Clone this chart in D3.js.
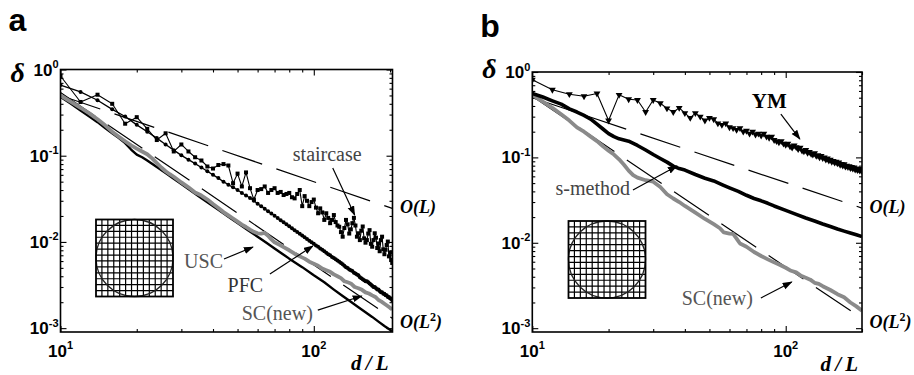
<!DOCTYPE html>
<html>
<head>
<meta charset="utf-8">
<script src="https://cdn.jsdelivr.net/npm/d3@7"></script>
<style>
  body { margin: 0; background: #fff; }
  svg { display: block; }
</style>
</head>
<body>
<div id="chart"></div>
<script>

// ---------- data ----------

// d/L at every second step, used by the marker series
const evenD = [10, 12, 14, 16, 18, 20, 22, 24, 26, 28, 30, 32, 34, 36, 38, 40, 42, 44, 46, 48,
    50, 52, 54, 56, 58, 60, 62, 64, 66, 68, 70, 72, 74, 76, 78, 80, 82, 84, 86, 88,
    90, 92, 94, 96, 98, 100, 102, 104, 106, 108, 110, 112, 114, 116, 118, 120, 122, 124, 126, 128,
    130, 132, 134, 136, 138, 140, 142, 144, 146, 148, 150, 152, 154, 156, 158, 160, 162, 164, 166, 168,
    170, 172, 174, 176, 178, 180, 182, 184, 186, 188, 190, 192, 194, 196, 198, 200, 202, 204];

// panel a
const staircaseA = [0.84, 0.42, 0.51, 0.40, 0.235, 0.28, 0.205, 0.152, 0.182, 0.112,
    0.135, 0.112, 0.096, 0.088, 0.075, 0.071, 0.078, 0.080, 0.077, 0.048,
    0.062, 0.044, 0.064, 0.042, 0.031, 0.040, 0.041, 0.044, 0.037, 0.040,
    0.042, 0.037, 0.038, 0.035, 0.036, 0.037, 0.033, 0.032, 0.036, 0.040,
    0.026, 0.034, 0.030, 0.026, 0.029, 0.031, 0.025, 0.0215, 0.0245, 0.022,
    0.018, 0.0215, 0.019, 0.0165, 0.018, 0.0205, 0.017, 0.0155, 0.015, 0.013,
    0.0115, 0.0145, 0.018, 0.016, 0.0125, 0.014, 0.0165, 0.019, 0.0155, 0.0115,
    0.0126, 0.0105, 0.0135, 0.0151, 0.011, 0.0098, 0.0105, 0.0125, 0.0137, 0.0095,
    0.0088, 0.0105, 0.0126, 0.0112, 0.0085, 0.0096, 0.0078, 0.0105, 0.0115, 0.0082,
    0.0072, 0.0081, 0.0092, 0.0101, 0.0068, 0.0075, 0.0062, 0.0057];

const pfcA = [0.66, 0.55, 0.44, 0.345, 0.285, 0.228, 0.19, 0.16, 0.135, 0.116,
    0.101, 0.090, 0.081, 0.073, 0.066, 0.060, 0.055, 0.050, 0.046, 0.043,
    0.040, 0.037, 0.0346, 0.0323, 0.0300, 0.0278, 0.0259, 0.0243, 0.0227, 0.0214,
    0.0201, 0.0189, 0.0179, 0.0169, 0.0160, 0.0152, 0.0144, 0.0137, 0.0130, 0.0124,
    0.0119, 0.0113, 0.0108, 0.0103, 0.0099, 0.0095, 0.0091, 0.0088, 0.0084, 0.0081,
    0.0078, 0.0075, 0.0072, 0.0070, 0.0067, 0.0065, 0.0063, 0.0061, 0.0059, 0.0057,
    0.0055, 0.0053, 0.0051, 0.0050, 0.0048, 0.0047, 0.0046, 0.0044, 0.0043, 0.0042,
    0.0041, 0.0039, 0.0038, 0.0037, 0.0036, 0.0035, 0.0035, 0.0034, 0.0033, 0.0032,
    0.0031, 0.0030, 0.0030, 0.0029, 0.0028, 0.0028, 0.0027, 0.0026, 0.0026, 0.0025,
    0.0025, 0.0024, 0.0024, 0.0023, 0.0023, 0.0022, 0.0022, 0.0021];

const scNewA = [[10, 0.50], [11, 0.42], [12, 0.36], [13, 0.31], [14, 0.265], [15, 0.225], [16, 0.19],
    [17, 0.166], [18, 0.147], [19, 0.132], [20, 0.121], [21, 0.112], [22, 0.104], [23, 0.093],
    [24, 0.082], [25, 0.073], [26, 0.066], [27, 0.061], [28, 0.057], [30, 0.049], [32, 0.043],
    [34, 0.0375], [35, 0.036], [36, 0.0345], [38, 0.031], [40, 0.0275], [42, 0.0248], [44, 0.0222],
    [46, 0.0203], [48, 0.0187], [50, 0.0172], [52, 0.0159], [54, 0.0149], [56, 0.0139], [58, 0.0131],
    [60, 0.0126], [62, 0.0125], [64, 0.0127], [66, 0.0118], [68, 0.0107], [70, 0.0099], [73, 0.0093],
    [76, 0.0087], [80, 0.0080], [84, 0.0073], [88, 0.0068], [92, 0.0064], [96, 0.0059], [100, 0.0056],
    [104, 0.0053], [108, 0.0049], [112, 0.0047], [116, 0.0045], [120, 0.0042], [124, 0.0040],
    [128, 0.0038], [132, 0.0035], [136, 0.0034], [140, 0.0033], [145, 0.0030], [150, 0.0029],
    [155, 0.00278], [160, 0.0026], [165, 0.00252], [170, 0.0024], [175, 0.0023], [180, 0.00212],
    [185, 0.00203], [190, 0.00192], [195, 0.00182], [200, 0.00172], [204, 0.00165]];

const uscA = [[10, 0.48], [11, 0.40], [12, 0.335], [13, 0.285], [14, 0.245], [15, 0.21], [16, 0.182],
    [17, 0.16], [18, 0.14], [19, 0.118], [20, 0.103], [21, 0.096], [22, 0.088], [24, 0.074],
    [26, 0.063], [28, 0.054], [30, 0.047], [32, 0.041], [35, 0.034], [38, 0.0288], [42, 0.0236],
    [46, 0.0196], [50, 0.0166], [55, 0.0137], [60, 0.0115], [65, 0.0098], [70, 0.0084], [75, 0.0073],
    [80, 0.0064], [90, 0.0051], [100, 0.0041], [110, 0.0034], [120, 0.0028], [130, 0.00236],
    [140, 0.00202], [150, 0.00175], [160, 0.00153], [170, 0.00135], [180, 0.00119], [190, 0.00106],
    [204, 0.00092]];

// guide lines O(L) and O(L^2), end points
const orderLA = [[10, 0.5], [204, 0.0245]];
const orderL2A = [[10, 0.54], [204, 0.0013]];

// panel b
const ymB = [0.81, 0.62, 0.55, 0.52, 0.56, 0.27, 0.54, 0.48, 0.47, 0.34,
    0.47, 0.43, 0.375, 0.34, 0.38, 0.33, 0.29, 0.33, 0.30, 0.27,
    0.29, 0.28, 0.25, 0.24, 0.25, 0.225, 0.22, 0.21, 0.22, 0.20,
    0.205, 0.19, 0.20, 0.185, 0.19, 0.18, 0.19, 0.175, 0.17, 0.175,
    0.16, 0.155, 0.15, 0.155, 0.145, 0.14, 0.145, 0.135, 0.13, 0.138,
    0.132, 0.125, 0.13, 0.12, 0.118, 0.122, 0.113, 0.116, 0.11, 0.108,
    0.112, 0.104, 0.106, 0.10, 0.104, 0.098, 0.10, 0.094, 0.097, 0.092,
    0.094, 0.089, 0.091, 0.087, 0.089, 0.085, 0.087, 0.082, 0.084, 0.080,
    0.083, 0.078, 0.080, 0.077, 0.079, 0.075, 0.077, 0.074, 0.076, 0.072,
    0.074, 0.071, 0.073, 0.070, 0.072, 0.069];

const sMethodB = [[10, 0.56], [11, 0.51], [12, 0.46], [13, 0.42], [14, 0.37], [15, 0.34], [16, 0.31],
    [17, 0.28], [18, 0.245], [19, 0.215], [20, 0.19], [21, 0.175], [22, 0.165], [24, 0.155],
    [26, 0.138], [28, 0.122], [30, 0.108], [32, 0.097], [34, 0.088], [36, 0.079], [38, 0.074],
    [40, 0.071], [44, 0.063], [48, 0.057], [52, 0.053], [56, 0.048], [60, 0.044], [65, 0.040],
    [70, 0.036], [75, 0.033], [80, 0.031], [85, 0.029], [90, 0.027], [100, 0.024], [110, 0.0215],
    [120, 0.0195], [130, 0.018], [140, 0.0166], [150, 0.0155], [160, 0.0145], [170, 0.0137],
    [180, 0.013], [190, 0.0124], [200, 0.0118]];

const scNewB = [[10, 0.54], [11, 0.45], [12, 0.38], [13, 0.32], [14, 0.27], [15, 0.225], [16, 0.20],
    [17, 0.175], [18, 0.155], [19, 0.135], [20, 0.12], [21, 0.108], [22, 0.095], [23, 0.082],
    [24, 0.07], [25, 0.062], [26, 0.058], [28, 0.054], [30, 0.052], [32, 0.045], [34, 0.037],
    [36, 0.033], [38, 0.030], [40, 0.027], [44, 0.0225], [48, 0.019], [52, 0.0165], [55, 0.0148],
    [57, 0.0132], [60, 0.0128], [62, 0.0127], [64, 0.0112], [66, 0.0098], [70, 0.0090], [75, 0.0078],
    [80, 0.0070], [85, 0.0064], [90, 0.0059], [95, 0.0055], [100, 0.0051], [105, 0.0047],
    [110, 0.0045], [115, 0.0041], [120, 0.0039], [125, 0.0037], [130, 0.0034], [135, 0.0033],
    [140, 0.0031], [150, 0.0028], [160, 0.0025], [170, 0.0023], [180, 0.0020], [190, 0.0018],
    [200, 0.0016]];

const orderLB = [[10, 0.5], [200, 0.0255]];
const orderL2B = [[10, 0.52], [200, 0.0013]];

// tick values and labels
const xMajor = [10, 100];
const xExp = ["1", "2"];
const xMinor = [20, 30, 40, 50, 60, 70, 80, 90, 200];
const yMajor = [1, 0.1, 0.01, 0.001];
const yExp = ["0", "-1", "-2", "-3"];
const yMinor = [0.002, 0.003, 0.004, 0.005, 0.006, 0.007, 0.008, 0.009,
    0.02, 0.03, 0.04, 0.05, 0.06, 0.07, 0.08, 0.09,
    0.2, 0.3, 0.4, 0.5, 0.6, 0.7, 0.8, 0.9];

// ---------- drawing ----------

const SERIF = "'Liberation Serif', 'Times New Roman', serif";
const SANS = "'Liberation Sans', Arial, sans-serif";
const yDomain = [0.000902, 1];

const svg = d3.select("#chart")
    .append("svg")
    .attr("width", 914)
    .attr("height", 375);

svg.append("defs").append("marker")
    .attr("id", "arrow")
    .attr("markerUnits", "userSpaceOnUse")
    .attr("markerWidth", 10).attr("markerHeight", 8)
    .attr("refX", 9).attr("refY", 3.5)
    .attr("orient", "auto")
    .append("path")
    .attr("d", "M0,0 L10,3.5 L0,7 Z")
    .attr("fill", "#000");

function zip(xs, ys) {
    return ys.map((v, i) => [xs[i], v]);
}

function drawPanel(p) {
    const x = d3.scaleLog().domain(p.xDomain).range([p.left, p.right]);
    const y = d3.scaleLog().domain(yDomain).range([p.bottom, p.top]);
    const g = svg.append("g");

    g.append("clipPath").attr("id", "clip-" + p.name)
        .append("rect")
        .attr("x", p.left).attr("y", p.top)
        .attr("width", p.right - p.left).attr("height", p.bottom - p.top);

    // ticks on all four sides, pointing inwards
    const sides = [
        [d3.axisBottom, x, `translate(0,${p.bottom})`, true],
        [d3.axisTop, x, `translate(0,${p.top})`, true],
        [d3.axisLeft, y, `translate(${p.left},0)`, false],
        [d3.axisRight, y, `translate(${p.right},0)`, false]
    ];
    sides.forEach(([axisFn, sc, tr, isX]) => {
        const sets = isX ? [[xMajor, 6], [xMinor, 3]] : [[yMajor, 6], [yMinor, 3]];
        sets.forEach(([vals, len]) => {
            const ax = g.append("g")
                .attr("transform", tr)
                .call(axisFn(sc).tickValues(vals).tickSize(-len).tickFormat(""));
            ax.select(".domain").remove();
            ax.selectAll("line").attr("stroke", "#000").attr("stroke-width", 1.1);
        });
    });

    const line = d3.line().x(d => x(d[0])).y(d => y(d[1]));
    const plot = g.append("g").attr("clip-path", `url(#clip-${p.name})`);

    // dashed guide lines
    p.guides.forEach(r => {
        plot.append("path")
            .datum(r)
            .attr("d", line)
            .attr("fill", "none")
            .attr("stroke", "#000")
            .attr("stroke-width", 1.2)
            .attr("stroke-dasharray", "42,15");
    });

    // data series
    p.series.forEach(s => {
        plot.append("path")
            .datum(s.data)
            .attr("d", line)
            .attr("fill", "none")
            .attr("stroke", s.color)
            .attr("stroke-width", s.width)
            .attr("stroke-linejoin", "round");

        const m = plot.append("g").attr("fill", "#000");
        if (s.marker === "circle") {
            m.selectAll("circle").data(s.data).join("circle")
                .attr("cx", d => x(d[0]))
                .attr("cy", d => y(d[1]))
                .attr("r", 2);
        } else if (s.marker === "square") {
            m.selectAll("rect").data(s.data).join("rect")
                .attr("x", d => x(d[0]) - 2)
                .attr("y", d => y(d[1]) - 2)
                .attr("width", 4).attr("height", 4);
        } else if (s.marker === "triangle") {
            m.selectAll("path").data(s.data).join("path")
                .attr("d", d3.symbol(d3.symbolTriangle, 20))
                .attr("transform", d => `translate(${x(d[0])},${y(d[1])}) rotate(180)`);
        }
    });

    // inset: square grid with a circle
    const side = 77, n = 13, step = side / n;
    const ins = g.append("g").attr("transform", `translate(${p.inset[0]},${p.inset[1]})`);
    for (let i = 1; i < n; i++) {
        ins.append("line").attr("x1", i * step).attr("x2", i * step).attr("y1", 0).attr("y2", side)
            .attr("stroke", "#000").attr("stroke-width", 1.2);
        ins.append("line").attr("y1", i * step).attr("y2", i * step).attr("x1", 0).attr("x2", side)
            .attr("stroke", "#000").attr("stroke-width", 1.2);
    }
    ins.append("circle").attr("cx", side / 2).attr("cy", side / 2).attr("r", side / 2)
        .attr("fill", "none").attr("stroke", "#222").attr("stroke-width", 1.3);
    ins.append("rect").attr("width", side).attr("height", side)
        .attr("fill", "none").attr("stroke", "#000").attr("stroke-width", 1.8);

    // frame
    g.append("rect")
        .attr("x", p.left).attr("y", p.top)
        .attr("width", p.right - p.left).attr("height", p.bottom - p.top)
        .attr("fill", "none").attr("stroke", "#000").attr("stroke-width", 1.6);

    // tick labels (10 with exponent)
    yMajor.forEach((v, i) => {
        const t = g.append("text")
            .attr("x", p.left - 2).attr("y", y(v) + 6)
            .attr("text-anchor", "end")
            .attr("font-family", SANS).attr("font-weight", "bold").attr("font-size", 17)
            .text("10");
        t.append("tspan").attr("dy", -7.5).attr("font-size", 11).text(yExp[i]);
    });
    xMajor.forEach((v, i) => {
        const t = g.append("text")
            .attr("x", x(v)).attr("y", 356.5)
            .attr("text-anchor", "middle")
            .attr("font-family", SANS).attr("font-weight", "bold").attr("font-size", 17)
            .text("10");
        t.append("tspan").attr("dy", -7.5).attr("font-size", 11).text(xExp[i]);
    });

    // axis names
    g.append("text")
        .attr("x", p.left - 50).attr("y", p.deltaY)
        .attr("font-family", SERIF).attr("font-style", "italic").attr("font-weight", "bold")
        .attr("font-size", 28)
        .text("\u03b4");
    g.append("text")
        .attr("x", p.right - 4).attr("y", p.dlY)
        .attr("text-anchor", "end")
        .attr("font-family", SERIF).attr("font-style", "italic").attr("font-weight", "bold")
        .attr("font-size", 21)
        .text("d\u2009/\u2009L");

    // panel letter
    g.append("text")
        .attr("x", p.left - 52).attr("y", p.letterY)
        .attr("font-family", SANS).attr("font-weight", "bold").attr("font-size", 32)
        .text(p.name);

    // order labels at the right of the guides
    g.append("text")
        .attr("x", p.right + 7.5).attr("y", y(p.guides[0][1][1]) + 5)
        .attr("font-family", SERIF).attr("font-style", "italic").attr("font-weight", "bold")
        .attr("font-size", 18)
        .text("O(L)");
    const oL2 = g.append("text")
        .attr("x", p.right + 7.5).attr("y", y(p.guides[1][1][1]) + 10)
        .attr("font-family", SERIF).attr("font-style", "italic").attr("font-weight", "bold")
        .attr("font-size", 18)
        .text("O(L");
    oL2.append("tspan").attr("dy", -7).attr("font-size", 12).attr("font-style", "normal").text("2");
    oL2.append("tspan").attr("dy", 7).text(")");

    // curve names and arrows
    p.notes.forEach(nt => {
        g.append("text")
            .attr("x", x(nt.at[0])).attr("y", y(nt.at[1]))
            .attr("text-anchor", nt.anchor)
            .attr("font-family", SERIF)
            .attr("font-weight", nt.bold ? "bold" : "normal")
            .attr("font-size", nt.bold ? 21 : 20)
            .attr("fill", nt.color)
            .text(nt.text);
        g.append("line")
            .attr("x1", x(nt.from[0])).attr("y1", y(nt.from[1]))
            .attr("x2", x(nt.to[0])).attr("y2", y(nt.to[1]))
            .attr("stroke", "#000").attr("stroke-width", 1.2)
            .attr("marker-end", "url(#arrow)");
    });
}

drawPanel({
    name: "a",
    xDomain: [10, 204.5],
    left: 60.5, right: 392.5, top: 69.5, bottom: 332,
    inset: [96, 219.5],
    deltaY: 82, dlY: 370, letterY: 30.5,
    guides: [orderLA, orderL2A],
    series: [
        { data: uscA, color: "#000", width: 2.4 },
        { data: scNewA, color: "#8a8a8a", width: 3.8 },
        { data: zip(evenD, pfcA), color: "#000", width: 1.3, marker: "circle" },
        { data: zip(evenD, staircaseA), color: "#000", width: 1.1, marker: "square" }
    ],
    notes: [
        { text: "staircase", at: [113, 0.0868], anchor: "middle", color: "#444", from: [118.8, 0.072], to: [145, 0.0205] },
        { text: "USC", at: [43.8, 0.00498], anchor: "end", color: "#555", from: [44.2, 0.00633], to: [57.5, 0.00873] },
        { text: "PFC", at: [53.7, 0.00262], anchor: "middle", color: "#333", from: [67.1, 0.00424], to: [99.1, 0.00896] },
        { text: "SC(new)", at: [99.1, 0.00124], anchor: "end", color: "#555", from: [103.7, 0.00162], to: [154.6, 0.00236] }
    ]
});

drawPanel({
    name: "b",
    xDomain: [10, 200],
    left: 532.3, right: 862, top: 72, bottom: 332,
    inset: [568.5, 221],
    deltaY: 78, dlY: 371, letterY: 37,
    guides: [orderLB, orderL2B],
    series: [
        { data: scNewB, color: "#8a8a8a", width: 3.8 },
        { data: sMethodB, color: "#000", width: 3.6 },
        { data: zip(evenD, ymB), color: "#000", width: 1.1, marker: "triangle" }
    ],
    notes: [
        { text: "YM", at: [86.2, 0.379], anchor: "middle", color: "#000", bold: true, from: [95.7, 0.322], to: [113.7, 0.164] },
        { text: "s-method", at: [24.3, 0.0363], anchor: "end", color: "#444", from: [24.96, 0.0415], to: [37.2, 0.0793] },
        { text: "SC(new)", at: [74.2, 0.00187], anchor: "end", color: "#555", from: [79.8, 0.00226], to: [105.6, 0.00348] }
    ]
});

</script>
</body>
</html>
